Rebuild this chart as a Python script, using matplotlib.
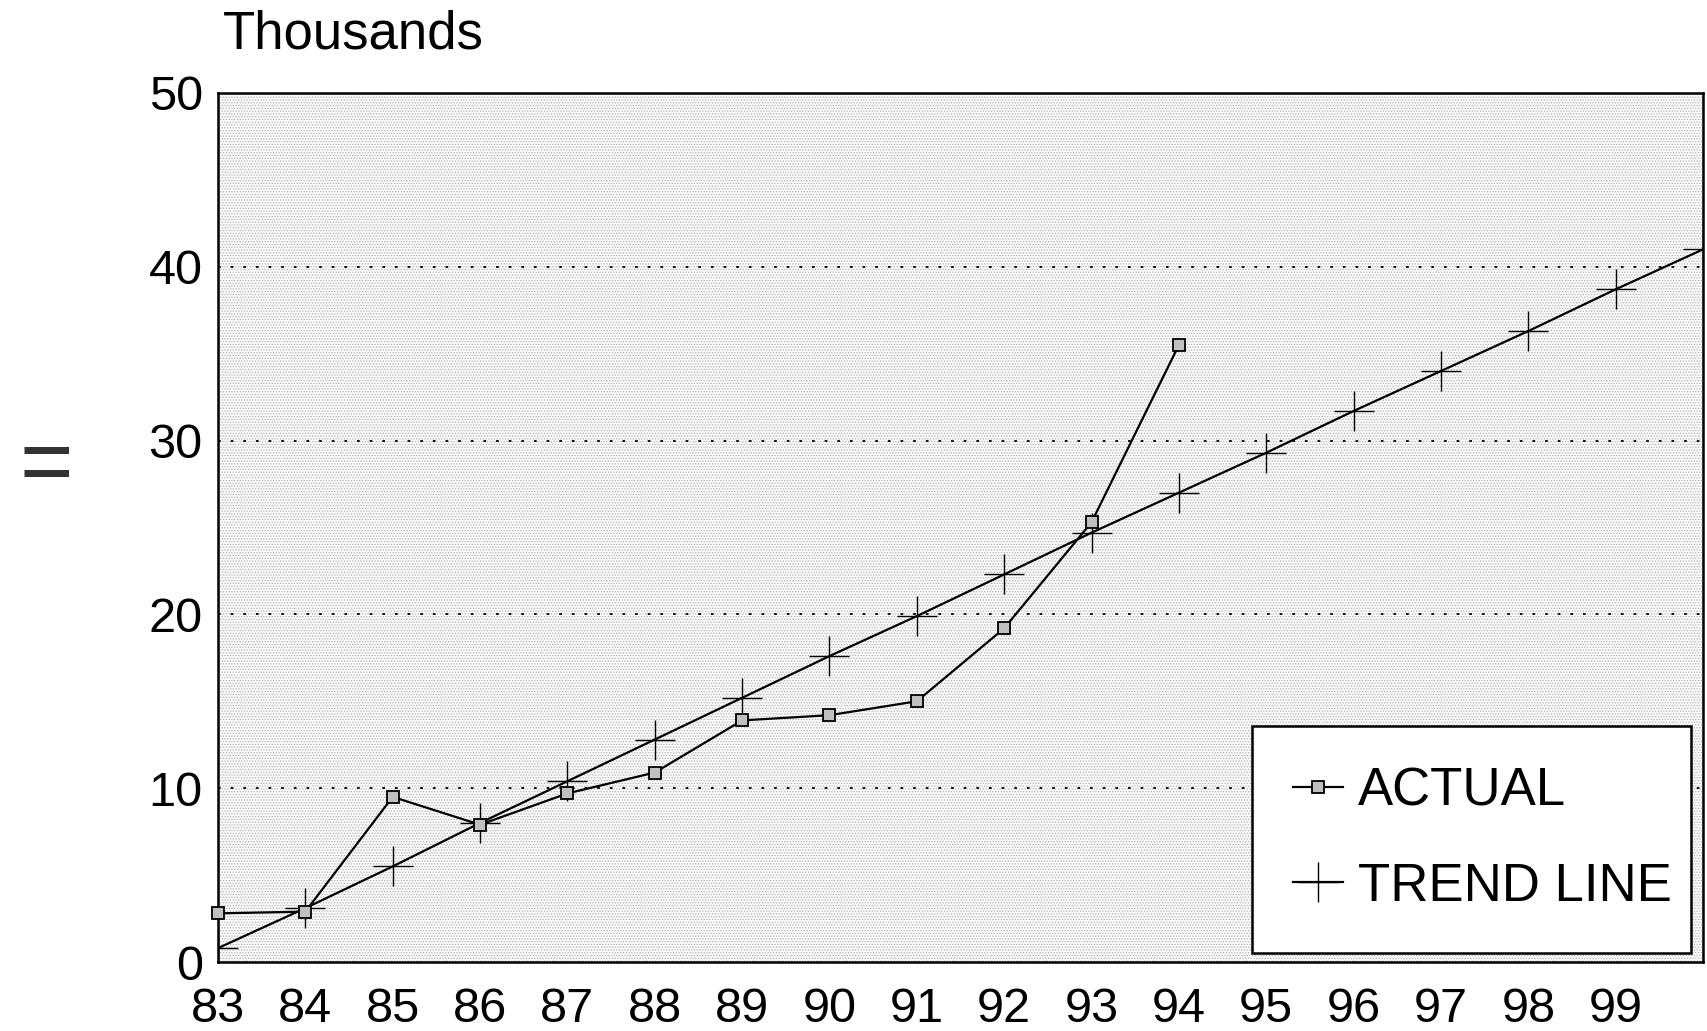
import matplotlib.pyplot as plt
from matplotlib.patches import Rectangle

plt.rcParams["font.family"] = ["Liberation Sans", "DejaVu Sans"]
plt.rcParams["hatch.linewidth"] = 0.6

# data (values in thousands)
years = [83, 84, 85, 86, 87, 88, 89, 90, 91, 92, 93, 94, 95, 96, 97, 98, 99, 100]
actual_years = years[:12]
actual = [2.8, 2.9, 9.5, 7.9, 9.7, 10.9, 13.9, 14.2, 15.0, 19.2, 25.3, 35.5]
trend = [0.8, 3.1, 5.5, 8.0, 10.4, 12.8, 15.2, 17.6, 19.9, 22.3, 24.7, 27.0,
         29.3, 31.7, 34.0, 36.3, 38.7, 41.0]
tick_years = years[:-1]
tick_labels = [str(y) for y in tick_years]
y_ticks = [0, 10, 20, 30, 40, 50]

fig = plt.figure(figsize=(17.07, 10.31), dpi=100)
ax = fig.add_axes([0.1277, 0.0669, 0.870, 0.843])

# stippled background
ax.add_patch(Rectangle((0, 0), 1, 1, transform=ax.transAxes, facecolor="#fafafa",
                       edgecolor="#b4b4b4", hatch="......", linewidth=0, zorder=0))

# dotted grid lines
for yv in y_ticks[1:-1]:
    ax.axhline(yv, color="black", linewidth=1.3, linestyle=(0, (1.5, 5.5)), zorder=1)

ax.plot(actual_years, actual, color="black", linewidth=1.6, marker="s", markersize=8,
        markerfacecolor="#c0c0c0", markeredgecolor="black", markeredgewidth=1.3,
        label="ACTUAL", zorder=3, clip_on=False)
ax.plot(years, trend, color="black", linewidth=1.6, marker="+", markersize=29,
        markeredgewidth=1.0, label="TREND LINE", zorder=2)

ax.set_xlim(83, 100)
ax.set_ylim(0, 50)
ax.set_xticks(tick_years)
ax.set_xticklabels(tick_labels)
ax.set_yticks(y_ticks)
ax.tick_params(axis="both", length=0, labelsize=35)
ax.tick_params(axis="x", pad=18)
ax.tick_params(axis="y", pad=11)
for s in ax.spines.values():
    s.set_linewidth(1.8)

leg = ax.legend(loc="lower left", bbox_to_anchor=(0.696, 0.0104, 0.296, 0.263),
                mode="expand", fontsize=38, frameon=True, fancybox=False,
                edgecolor="black", framealpha=1, handlelength=0.95, handletextpad=0.28,
                labelspacing=0.85, borderpad=0.78, borderaxespad=0)
leg.get_frame().set_linewidth(1.8)

fig.text(0.1306, 0.953, "Thousands", fontsize=38, va="baseline", ha="left")
fig.text(0.027, 0.545, "=", fontsize=66, va="center", ha="center", color="#333333")

fig.savefig("out.png", dpi=100)
